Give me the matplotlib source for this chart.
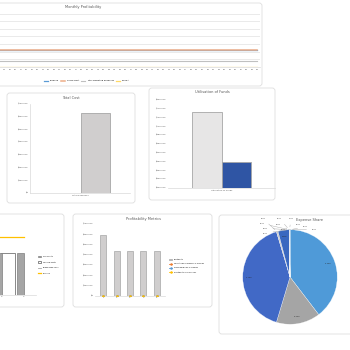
import numpy as np
import matplotlib
matplotlib.use('Agg')
import matplotlib.pyplot as plt
from matplotlib.patches import FancyBboxPatch
from matplotlib.ticker import FuncFormatter

# ---- data ----
months = list(range(1, 61))
monthly_series = ['Revenue', 'Gross Profit', 'Total Operating Expenses', 'EBITDA']
monthly_values = [2.2, 2.2, 0.8, 0.02]          # flat lines, in $100k

total_cost_cat = ['Total Expenses']
total_cost_vals = [0, 626000]

funds_cat = ['Utilisation of Funds']
funds_vals = [758000, 588000]

be_cats = ['1', '2', '3', '4']
be_fixed = [420000, 420000, 420000, 0]
be_variable = [420000, 420000, 420000, 0]
be_breakeven = [0, 0, 0, 0]
be_revenue = [580000, 580000, 580000, 580000]

pm_years = ['1', '2', '3', '4', '5']
pm_profit = [595000, 442000, 442000, 442000, 442000]
pm_opex_pct = [0.4, 0.4, 0.4, 0.4, 0.4]
pm_gross_pct = [1.0, 1.0, 1.0, 1.0, 1.0]
pm_profit_pct = [0.6, 0.6, 0.6, 0.6, 0.6]

share_vals = [39.6, 15.0, 40.7, 0.55, 3.9,
              0.00, 0.01, 0.00, 0.00, 0.01, 0.00, 0.14, 0.00, 0.00, 0.02]
share_cols = ['#4f9ad8', '#a5a5a5', '#4169c6', '#c9c9c9', '#3a68c0',
              '#6a9fd8', '#9a9a9a', '#5b7fcf', '#b0b0b0', '#4f8fd0',
              '#7f7f7f', '#2f55a4', '#c0c0c0', '#5b9bd5', '#8faadc']
# where the labels of the tiny slices sit (pie radius units)
small_label_pos = [(-0.57, 1.23), (-0.59, 1.13), (-0.53, 1.03), (-0.53, 0.93),
                   (-0.22, 1.23), (-0.25, 1.12), (-0.15, 1.01),
                   (0.02, 1.23), (0.17, 1.11), (0.33, 1.06), (0.52, 1.01)]

W = H = 350.0
fig = plt.figure(figsize=(3.5, 3.5), dpi=100)
fig.patch.set_facecolor('white')


def box(x0, y0, x1, y1):
    return [x0 / W, 1 - y1 / H, (x1 - x0) / W, (y1 - y0) / H]


def panel(x0, y0, x1, y1):
    p = FancyBboxPatch((x0 / W, 1 - y1 / H), (x1 - x0) / W, (y1 - y0) / H,
                       boxstyle='round,pad=0,rounding_size=0.008',
                       transform=fig.transFigure, facecolor='white',
                       edgecolor='#dedede', linewidth=0.6, zorder=0)
    fig.add_artist(p)


def title(x, y, s):
    fig.text(x / W, 1 - y / H, s, ha='center', va='center', fontsize=2.6, color='#595959')


def style(ax, grid=True):
    for s in ['top', 'right', 'left']:
        ax.spines[s].set_visible(False)
    ax.spines['bottom'].set_color('#d9d9d9')
    ax.spines['bottom'].set_linewidth(0.5)
    ax.tick_params(length=0, labelsize=1.6, colors='#595959', pad=1)
    ax.set_facecolor('none')
    if grid:
        ax.yaxis.grid(True, color='#e2e2e2', linewidth=0.5)
        ax.set_axisbelow(True)


money = FuncFormatter(lambda v, p: '$%s' % format(int(v), ',') if v else '$0')

# panels
panel(-96, 3, 262, 86)
panel(7, 93, 135, 203)
panel(149, 88, 275, 200)
panel(-130, 214, 64, 307)
panel(73, 214, 212, 307)
panel(219, 215, 360, 334)

# ---- Monthly Profitability ----
ax = fig.add_axes(box(-70, 12, 260, 67))
cols = ['#5b9bd5', '#eeae88', '#c0c0c0', '#ffd966']
lws = [0.9, 1.1, 0.8, 0.9]
for name, v, c, lw in zip(monthly_series, monthly_values, cols, lws):
    ax.plot(months, [v] * len(months), color=c, linewidth=lw, label=name)
ax.set_xlim(0.5, 60.5)
ax.set_ylim(0, 7.2)
ax.set_xticks(months)
# labels left of the figure edge are not visible in the reference
ax.set_xticklabels(['%02d' % m if m >= 14 else '' for m in months])
ax.set_yticks(range(0, 8))
ax.set_yticklabels([])
style(ax)
ax.tick_params(pad=1.5)
title(83, 7, 'Monthly Profitability')
ax.legend(loc='upper center', bbox_to_anchor=(157 / 330, -0.2),
          ncol=4, fontsize=1.5, frameon=False, handlelength=2, columnspacing=1.0)

# ---- Total Cost ----
ax = fig.add_axes(box(30, 104, 130, 193))
x = np.arange(len(total_cost_cat))
ax.bar(x - 0.15, total_cost_vals[0], 0.29, color='#5b9bd5')
ax.bar(x + 0.15, total_cost_vals[1], 0.29, color='#d0cece', edgecolor='#a6a6a6', linewidth=0.6)
ax.set_xlim(-0.5, 0.5)
ax.set_ylim(0, 700000)
ax.set_yticks(range(0, 700001, 100000))
ax.yaxis.set_major_formatter(money)
ax.set_xticks(x)
ax.set_xticklabels(total_cost_cat)
style(ax, grid=False)
ax.spines['left'].set_visible(True)
ax.spines['left'].set_color('#d9d9d9')
ax.spines['left'].set_linewidth(0.5)
title(71, 98, 'Total Cost')

# ---- Utilisation of Funds ----
ax = fig.add_axes(box(168, 100, 275, 188))
ax.bar(x - 0.14, funds_vals[0], 0.28, color='#e7e6e6', edgecolor='#a6a6a6', linewidth=0.6)
ax.bar(x + 0.14, funds_vals[1], 0.28, color='#2f55a4', edgecolor='#a6a6a6', linewidth=0.6)
ax.set_xlim(-0.5, 0.5)
ax.set_ylim(500000, 800000)
ax.set_yticks(range(500000, 800001, 30000))
ax.yaxis.set_major_formatter(money)
ax.set_xticks(x)
ax.set_xticklabels(funds_cat)
style(ax, grid=False)
title(212, 92, 'Utilisation of Funds')

# ---- Break Even Analysis ----
ax = fig.add_axes(box(-53, 225, 36, 295))
xb = np.arange(len(be_cats))
vb = ax.bar(xb - 0.05, be_variable, 0.65, align='edge', color='white', edgecolor='#595959',
            linewidth=0.5, label='Variable Costs')
fb = ax.bar(xb + 0.68, be_fixed, 0.33, align='edge', color='#a5a5a5', edgecolor='#7f7f7f',
            linewidth=0.5, label='Fixed Costs')
bl, = ax.plot(xb, be_breakeven, color='#a5a5a5', linewidth=0.6, label='Break Even Sales')
rl, = ax.plot(xb, be_revenue, color='#ffc000', linewidth=0.9, label='Revenue')
ax.set_xlim(-0.5, 3.55)
ax.set_ylim(0, 700000)
ax.set_xticks(xb)
# only the last two categories fall inside the picture
ax.set_xticklabels(['', ''] + be_cats[2:])
ax.set_yticks([])
style(ax, grid=False)
title(-20, 219, 'Break Even Analysis')
ax.legend([fb, vb, bl, rl], ['Fixed Costs', 'Variable Costs', 'Break Even Sales', 'Revenue'],
          loc='center left', bbox_to_anchor=(1.0, 0.43), fontsize=1.3, frameon=False,
          handlelength=2, labelspacing=2.4)

# ---- Profitability Metrics ----
ax = fig.add_axes(box(95, 224, 165, 296))
xp = np.arange(len(pm_years))
ax.bar(xp, pm_profit, 0.45, color='#d0cece', edgecolor='#a6a6a6', linewidth=0.5, label='Profitability')
ax.set_ylim(0, 700000)
ax.set_yticks(range(0, 700001, 100000))
ax.yaxis.set_major_formatter(money)
ax.set_xticks(xp)
ax.set_xticklabels(pm_years)
ax.set_xlim(-0.6, 4.6)
style(ax, grid=False)
ax2 = ax.twinx()
ax2.plot(xp, pm_opex_pct, color='#ed7d31', marker='o', markersize=0.8, linewidth=0.6,
         label='Operating Expenses as % of Sales')
ax2.plot(xp, pm_gross_pct, color='#5b9bd5', marker='o', markersize=0.8, linewidth=0.6,
         label='Gross Margin as % of Sales')
ax2.plot(xp, pm_profit_pct, color='#ffc000', marker='o', markersize=0.8, linewidth=0.6,
         label='Profitability as % of Sales')
ax2.set_ylim(0, 700)
ax2.axis('off')
title(143, 219, 'Profitability Metrics')
h1, l1 = ax.get_legend_handles_labels()
h2, l2 = ax2.get_legend_handles_labels()
ax.legend(h1 + h2, l1 + l2, loc='center left', bbox_to_anchor=(1.03, 0.42), fontsize=1.3,
          frameon=False, handlelength=2, labelspacing=1.6)

# ---- Expense Share ----
ax = fig.add_axes(box(236, 225, 344, 329))
ax.pie(share_vals, colors=share_cols, startangle=90, counterclock=False,
       wedgeprops=dict(edgecolor='white', linewidth=0.2))
starts = np.cumsum([0] + share_vals[:-1])
small = 0
for v, ang in zip(share_vals, starts):
    mid = np.deg2rad(90 - (ang + v / 2) * 3.6)
    if v > 3:
        r = 0.86
        ax.text(r * np.cos(mid), r * np.sin(mid), '%.2f%%' % v, ha='center', va='center',
                fontsize=1.3, color='#262626')
    else:
        lx, ly = small_label_pos[small]
        ax.annotate('%.2f%%' % v, xy=(np.cos(mid), np.sin(mid)), xytext=(lx, ly),
                    fontsize=1.2, color='#404040', ha='center', va='center',
                    arrowprops=dict(arrowstyle='-', color='#a6a6a6', lw=0.3),
                    annotation_clip=False)
        small += 1
ax.set_xlim(-1.1, 1.1)
ax.set_ylim(-1.1, 1.1)
ax.set_aspect('equal')
title(310, 220, 'Expense Share')

fig.savefig('out.png', dpi=100, facecolor='white')
